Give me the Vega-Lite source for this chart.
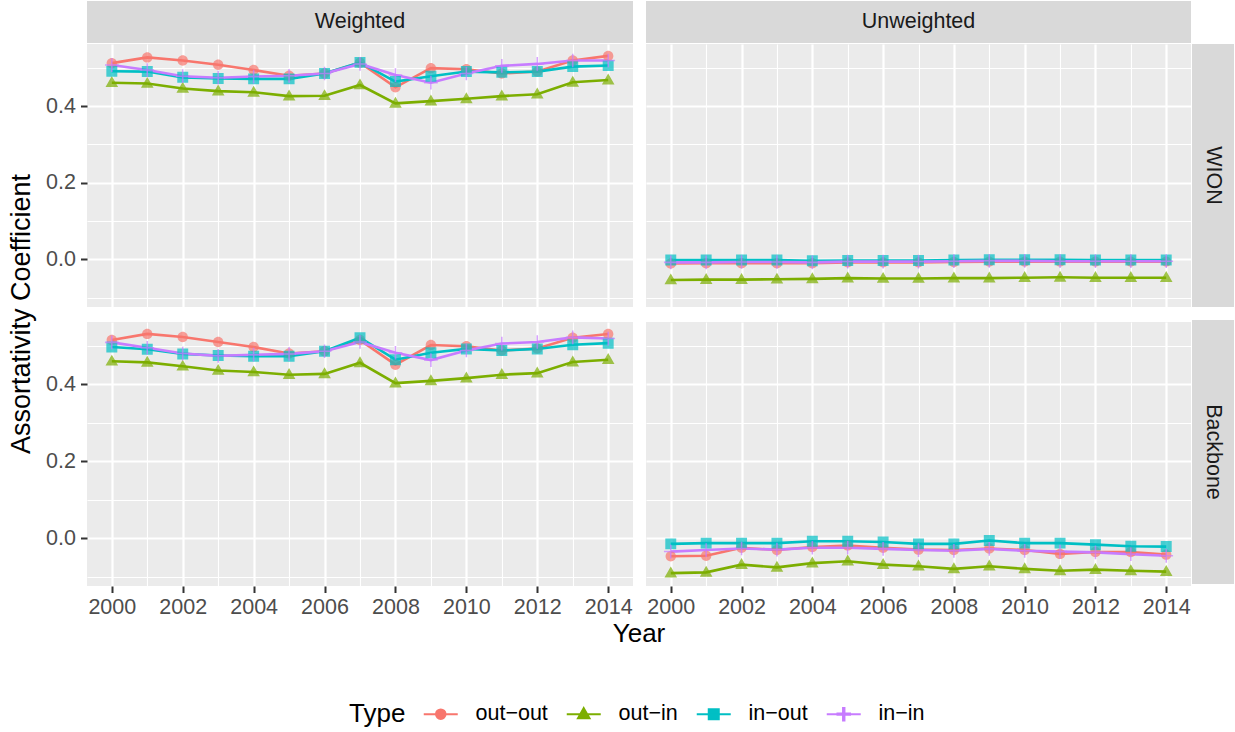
{
"$schema": "https://vega.github.io/schema/vega-lite/v6.json",
"padding": {"left": 7, "top": 1, "right": 0, "bottom": 0},
"datasets": {
"ww": [
{"Type":"out-out","Year":2000,"value":0.512},{"Type":"out-out","Year":2001,"value":0.527},{"Type":"out-out","Year":2002,"value":0.519},{"Type":"out-out","Year":2003,"value":0.508},{"Type":"out-out","Year":2004,"value":0.494},{"Type":"out-out","Year":2005,"value":0.479},{"Type":"out-out","Year":2006,"value":0.485},{"Type":"out-out","Year":2007,"value":0.513},{"Type":"out-out","Year":2008,"value":0.449},{"Type":"out-out","Year":2009,"value":0.499},{"Type":"out-out","Year":2010,"value":0.496},{"Type":"out-out","Year":2011,"value":0.485},{"Type":"out-out","Year":2012,"value":0.490},{"Type":"out-out","Year":2013,"value":0.519},{"Type":"out-out","Year":2014,"value":0.531},
{"Type":"out-in","Year":2000,"value":0.461},{"Type":"out-in","Year":2001,"value":0.459},{"Type":"out-in","Year":2002,"value":0.446},{"Type":"out-in","Year":2003,"value":0.439},{"Type":"out-in","Year":2004,"value":0.436},{"Type":"out-in","Year":2005,"value":0.426},{"Type":"out-in","Year":2006,"value":0.427},{"Type":"out-in","Year":2007,"value":0.455},{"Type":"out-in","Year":2008,"value":0.407},{"Type":"out-in","Year":2009,"value":0.413},{"Type":"out-in","Year":2010,"value":0.419},{"Type":"out-in","Year":2011,"value":0.426},{"Type":"out-in","Year":2012,"value":0.431},{"Type":"out-in","Year":2013,"value":0.462},{"Type":"out-in","Year":2014,"value":0.468},
{"Type":"in-out","Year":2000,"value":0.491},{"Type":"in-out","Year":2001,"value":0.490},{"Type":"in-out","Year":2002,"value":0.475},{"Type":"in-out","Year":2003,"value":0.472},{"Type":"in-out","Year":2004,"value":0.471},{"Type":"in-out","Year":2005,"value":0.471},{"Type":"in-out","Year":2006,"value":0.485},{"Type":"in-out","Year":2007,"value":0.514},{"Type":"in-out","Year":2008,"value":0.464},{"Type":"in-out","Year":2009,"value":0.478},{"Type":"in-out","Year":2010,"value":0.490},{"Type":"in-out","Year":2011,"value":0.488},{"Type":"in-out","Year":2012,"value":0.490},{"Type":"in-out","Year":2013,"value":0.503},{"Type":"in-out","Year":2014,"value":0.506},
{"Type":"in-in","Year":2000,"value":0.507},{"Type":"in-in","Year":2001,"value":0.494},{"Type":"in-in","Year":2002,"value":0.478},{"Type":"in-in","Year":2003,"value":0.474},{"Type":"in-in","Year":2004,"value":0.477},{"Type":"in-in","Year":2005,"value":0.479},{"Type":"in-in","Year":2006,"value":0.485},{"Type":"in-in","Year":2007,"value":0.510},{"Type":"in-in","Year":2008,"value":0.481},{"Type":"in-in","Year":2009,"value":0.461},{"Type":"in-in","Year":2010,"value":0.485},{"Type":"in-in","Year":2011,"value":0.505},{"Type":"in-in","Year":2012,"value":0.510},{"Type":"in-in","Year":2013,"value":0.519},{"Type":"in-in","Year":2014,"value":0.519}
],
"uw": [
{"Type":"out-out","Year":2000,"value":-0.011},{"Type":"out-out","Year":2001,"value":-0.010},{"Type":"out-out","Year":2002,"value":-0.010},{"Type":"out-out","Year":2003,"value":-0.010},{"Type":"out-out","Year":2004,"value":-0.010},{"Type":"out-out","Year":2005,"value":-0.008},{"Type":"out-out","Year":2006,"value":-0.008},{"Type":"out-out","Year":2007,"value":-0.008},{"Type":"out-out","Year":2008,"value":-0.007},{"Type":"out-out","Year":2009,"value":-0.006},{"Type":"out-out","Year":2010,"value":-0.006},{"Type":"out-out","Year":2011,"value":-0.006},{"Type":"out-out","Year":2012,"value":-0.006},{"Type":"out-out","Year":2013,"value":-0.006},{"Type":"out-out","Year":2014,"value":-0.006},
{"Type":"out-in","Year":2000,"value":-0.054},{"Type":"out-in","Year":2001,"value":-0.053},{"Type":"out-in","Year":2002,"value":-0.053},{"Type":"out-in","Year":2003,"value":-0.052},{"Type":"out-in","Year":2004,"value":-0.051},{"Type":"out-in","Year":2005,"value":-0.049},{"Type":"out-in","Year":2006,"value":-0.050},{"Type":"out-in","Year":2007,"value":-0.050},{"Type":"out-in","Year":2008,"value":-0.049},{"Type":"out-in","Year":2009,"value":-0.049},{"Type":"out-in","Year":2010,"value":-0.048},{"Type":"out-in","Year":2011,"value":-0.047},{"Type":"out-in","Year":2012,"value":-0.048},{"Type":"out-in","Year":2013,"value":-0.048},{"Type":"out-in","Year":2014,"value":-0.048},
{"Type":"in-out","Year":2000,"value":-0.002},{"Type":"in-out","Year":2001,"value":-0.002},{"Type":"in-out","Year":2002,"value":-0.002},{"Type":"in-out","Year":2003,"value":-0.002},{"Type":"in-out","Year":2004,"value":-0.004},{"Type":"in-out","Year":2005,"value":-0.003},{"Type":"in-out","Year":2006,"value":-0.003},{"Type":"in-out","Year":2007,"value":-0.003},{"Type":"in-out","Year":2008,"value":-0.002},{"Type":"in-out","Year":2009,"value":-0.001},{"Type":"in-out","Year":2010,"value":-0.001},{"Type":"in-out","Year":2011,"value":-0.001},{"Type":"in-out","Year":2012,"value":-0.002},{"Type":"in-out","Year":2013,"value":-0.002},{"Type":"in-out","Year":2014,"value":-0.002},
{"Type":"in-in","Year":2000,"value":-0.008},{"Type":"in-in","Year":2001,"value":-0.008},{"Type":"in-in","Year":2002,"value":-0.007},{"Type":"in-in","Year":2003,"value":-0.007},{"Type":"in-in","Year":2004,"value":-0.008},{"Type":"in-in","Year":2005,"value":-0.006},{"Type":"in-in","Year":2006,"value":-0.006},{"Type":"in-in","Year":2007,"value":-0.006},{"Type":"in-in","Year":2008,"value":-0.005},{"Type":"in-in","Year":2009,"value":-0.004},{"Type":"in-in","Year":2010,"value":-0.004},{"Type":"in-in","Year":2011,"value":-0.005},{"Type":"in-in","Year":2012,"value":-0.005},{"Type":"in-in","Year":2013,"value":-0.005},{"Type":"in-in","Year":2014,"value":-0.005}
],
"wb": [
{"Type":"out-out","Year":2000,"value":0.515},{"Type":"out-out","Year":2001,"value":0.531},{"Type":"out-out","Year":2002,"value":0.523},{"Type":"out-out","Year":2003,"value":0.510},{"Type":"out-out","Year":2004,"value":0.497},{"Type":"out-out","Year":2005,"value":0.480},{"Type":"out-out","Year":2006,"value":0.486},{"Type":"out-out","Year":2007,"value":0.515},{"Type":"out-out","Year":2008,"value":0.451},{"Type":"out-out","Year":2009,"value":0.502},{"Type":"out-out","Year":2010,"value":0.499},{"Type":"out-out","Year":2011,"value":0.488},{"Type":"out-out","Year":2012,"value":0.493},{"Type":"out-out","Year":2013,"value":0.521},{"Type":"out-out","Year":2014,"value":0.531},
{"Type":"out-in","Year":2000,"value":0.460},{"Type":"out-in","Year":2001,"value":0.457},{"Type":"out-in","Year":2002,"value":0.447},{"Type":"out-in","Year":2003,"value":0.436},{"Type":"out-in","Year":2004,"value":0.432},{"Type":"out-in","Year":2005,"value":0.425},{"Type":"out-in","Year":2006,"value":0.427},{"Type":"out-in","Year":2007,"value":0.456},{"Type":"out-in","Year":2008,"value":0.403},{"Type":"out-in","Year":2009,"value":0.409},{"Type":"out-in","Year":2010,"value":0.416},{"Type":"out-in","Year":2011,"value":0.425},{"Type":"out-in","Year":2012,"value":0.429},{"Type":"out-in","Year":2013,"value":0.458},{"Type":"out-in","Year":2014,"value":0.464},
{"Type":"in-out","Year":2000,"value":0.497},{"Type":"in-out","Year":2001,"value":0.491},{"Type":"in-out","Year":2002,"value":0.479},{"Type":"in-out","Year":2003,"value":0.475},{"Type":"in-out","Year":2004,"value":0.473},{"Type":"in-out","Year":2005,"value":0.473},{"Type":"in-out","Year":2006,"value":0.486},{"Type":"in-out","Year":2007,"value":0.521},{"Type":"in-out","Year":2008,"value":0.464},{"Type":"in-out","Year":2009,"value":0.482},{"Type":"in-out","Year":2010,"value":0.492},{"Type":"in-out","Year":2011,"value":0.488},{"Type":"in-out","Year":2012,"value":0.492},{"Type":"in-out","Year":2013,"value":0.503},{"Type":"in-out","Year":2014,"value":0.507},
{"Type":"in-in","Year":2000,"value":0.509},{"Type":"in-in","Year":2001,"value":0.495},{"Type":"in-in","Year":2002,"value":0.480},{"Type":"in-in","Year":2003,"value":0.474},{"Type":"in-in","Year":2004,"value":0.477},{"Type":"in-in","Year":2005,"value":0.479},{"Type":"in-in","Year":2006,"value":0.486},{"Type":"in-in","Year":2007,"value":0.510},{"Type":"in-in","Year":2008,"value":0.482},{"Type":"in-in","Year":2009,"value":0.463},{"Type":"in-in","Year":2010,"value":0.488},{"Type":"in-in","Year":2011,"value":0.506},{"Type":"in-in","Year":2012,"value":0.510},{"Type":"in-in","Year":2013,"value":0.522},{"Type":"in-in","Year":2014,"value":0.519}
],
"ub": [
{"Type":"out-out","Year":2000,"value":-0.047},{"Type":"out-out","Year":2001,"value":-0.046},{"Type":"out-out","Year":2002,"value":-0.025},{"Type":"out-out","Year":2003,"value":-0.031},{"Type":"out-out","Year":2004,"value":-0.023},{"Type":"out-out","Year":2005,"value":-0.019},{"Type":"out-out","Year":2006,"value":-0.025},{"Type":"out-out","Year":2007,"value":-0.030},{"Type":"out-out","Year":2008,"value":-0.031},{"Type":"out-out","Year":2009,"value":-0.027},{"Type":"out-out","Year":2010,"value":-0.031},{"Type":"out-out","Year":2011,"value":-0.041},{"Type":"out-out","Year":2012,"value":-0.036},{"Type":"out-out","Year":2013,"value":-0.036},{"Type":"out-out","Year":2014,"value":-0.043},
{"Type":"out-in","Year":2000,"value":-0.091},{"Type":"out-in","Year":2001,"value":-0.089},{"Type":"out-in","Year":2002,"value":-0.069},{"Type":"out-in","Year":2003,"value":-0.076},{"Type":"out-in","Year":2004,"value":-0.065},{"Type":"out-in","Year":2005,"value":-0.060},{"Type":"out-in","Year":2006,"value":-0.069},{"Type":"out-in","Year":2007,"value":-0.073},{"Type":"out-in","Year":2008,"value":-0.080},{"Type":"out-in","Year":2009,"value":-0.073},{"Type":"out-in","Year":2010,"value":-0.080},{"Type":"out-in","Year":2011,"value":-0.085},{"Type":"out-in","Year":2012,"value":-0.082},{"Type":"out-in","Year":2013,"value":-0.085},{"Type":"out-in","Year":2014,"value":-0.087},
{"Type":"in-out","Year":2000,"value":-0.015},{"Type":"in-out","Year":2001,"value":-0.013},{"Type":"in-out","Year":2002,"value":-0.013},{"Type":"in-out","Year":2003,"value":-0.013},{"Type":"in-out","Year":2004,"value":-0.008},{"Type":"in-out","Year":2005,"value":-0.008},{"Type":"in-out","Year":2006,"value":-0.010},{"Type":"in-out","Year":2007,"value":-0.015},{"Type":"in-out","Year":2008,"value":-0.015},{"Type":"in-out","Year":2009,"value":-0.006},{"Type":"in-out","Year":2010,"value":-0.013},{"Type":"in-out","Year":2011,"value":-0.013},{"Type":"in-out","Year":2012,"value":-0.017},{"Type":"in-out","Year":2013,"value":-0.021},{"Type":"in-out","Year":2014,"value":-0.022},
{"Type":"in-in","Year":2000,"value":-0.035},{"Type":"in-in","Year":2001,"value":-0.031},{"Type":"in-in","Year":2002,"value":-0.027},{"Type":"in-in","Year":2003,"value":-0.030},{"Type":"in-in","Year":2004,"value":-0.025},{"Type":"in-in","Year":2005,"value":-0.025},{"Type":"in-in","Year":2006,"value":-0.028},{"Type":"in-in","Year":2007,"value":-0.031},{"Type":"in-in","Year":2008,"value":-0.033},{"Type":"in-in","Year":2009,"value":-0.028},{"Type":"in-in","Year":2010,"value":-0.033},{"Type":"in-in","Year":2011,"value":-0.035},{"Type":"in-in","Year":2012,"value":-0.037},{"Type":"in-in","Year":2013,"value":-0.042},{"Type":"in-in","Year":2014,"value":-0.046}
]
},
"config": {
  "font": "Liberation Sans",
  "view": {"fill": "#EBEBEB", "stroke": null},
  "axis": {"domain": false, "grid": true, "gridColor": "#FFFFFF", "tickColor": "#333333", "tickSize": 6.5, "tickWidth": 2, "labelColor": "#4D4D4D", "labelFont": "Liberation Sans", "labelFontSize": 21.5, "labelOverlap": false, "titleFont": "Liberation Sans", "titleFontSize": 26, "titleFontWeight": "normal", "titleColor": "#000000"},
  "axisX": {"labelPadding": 4},
  "axisY": {"labelPadding": 5},
  "legend": {"orient": "none", "legendX": 342, "legendY": 702, "direction": "horizontal", "titleOrient": "left", "titleFont": "Liberation Sans", "titleFontSize": 26, "titleFontWeight": "normal", "titleColor": "#000000", "labelFont": "Liberation Sans", "labelFontSize": 21.5, "labelColor": "#000000", "columnPadding": 14, "labelOffset": 24, "titlePadding": 24}
},
"spacing": 8,
"hconcat": [
  {"width": 30, "height": 626, "view": {"fill": null, "stroke": null}, "data": {"values": [{"label": "Assortativity Coefficient"}]}, "mark": {"type": "text", "angle": 270, "fontSize": 27, "color": "#000000", "font": "Liberation Sans"}, "encoding": {"text": {"field": "label"}}},
  {"spacing": 1, "vconcat": [
    {"spacing": 13, "hconcat": [
      {"width": 546, "height": 42, "view": {"fill": "#D9D9D9", "stroke": null}, "data": {"values": [{"label": "Weighted"}]}, "mark": {"type": "text", "fontSize": 21.5, "color": "#1A1A1A", "font": "Liberation Sans"}, "encoding": {"text": {"field": "label"}}},
      {"width": 545, "height": 42, "view": {"fill": "#D9D9D9", "stroke": null}, "data": {"values": [{"label": "Unweighted"}]}, "mark": {"type": "text", "fontSize": 21.5, "color": "#1A1A1A", "font": "Liberation Sans"}, "encoding": {"text": {"field": "label"}}}
    ]},
    {"spacing": 1, "hconcat": [
      {"spacing": 13, "vconcat": [
        {"spacing": 13, "hconcat": [
          {"width": 546, "height": 263, "data": {"name": "ww"},
           "encoding": {
             "x": {"field": "Year", "type": "quantitative", "scale": {"domain": [1999.3, 2014.7], "nice": false, "zero": false}, "axis": {"values": [2000,2001,2002,2003,2004,2005,2006,2007,2008,2009,2010,2011,2012,2013,2014], "labels": false, "ticks": false, "title": null, "gridWidth": {"condition": {"test": "datum.value % 2 == 1", "value": 1.1}, "value": 2.2}}},
             "y": {"field": "value", "type": "quantitative", "scale": {"domain": [-0.1245, 0.562], "nice": false, "zero": false}, "axis": {"values": [-0.1,0,0.1,0.2,0.3,0.4,0.5], "labelExpr": "abs(round(datum.value*10)) % 2 == 1 ? '' : format(datum.value, '.1f')", "tickOpacity": {"condition": {"test": "abs(round(datum.value*10)) % 2 == 1", "value": 0}, "value": 1}, "gridWidth": {"condition": {"test": "abs(round(datum.value*10)) % 2 == 1", "value": 1.1}, "value": 2.2}, "title": null}},
             "color": {"field": "Type", "type": "nominal", "scale": {"domain": ["out-out","out-in","in-out","in-in"], "range": ["#F8766D","#7CAE00","#00BFC4","#C77CFF"]}, "legend": {"labelExpr": "replace(datum.label, '-', '\u2212')", "encode": {"symbols": {"update": {"stroke": {"scale": "color", "field": "value"}, "strokeWidth": {"value": 2}}}}}}
           },
           "layer": [
             {"mark": {"type": "line", "strokeWidth": 2.6}},
             {"mark": {"type": "point", "filled": true, "size": 120, "opacity": 0.7}, "encoding": {"shape": {"field": "Type", "type": "nominal", "scale": {"domain": ["out-out","out-in","in-out","in-in"], "range": ["M-3.4,0H3.4M0.95,0A0.95,0.95,0,1,1,-0.95,0A0.95,0.95,0,1,1,0.95,0Z", "M-3.4,0H3.4M0,-1.2L1.15,0.8L-1.15,0.8Z", "M-3.4,0H3.4M-1,-1H1V1H-1Z", "M-3.4,0H3.4M-1.25,-0.14H1.25V0.14H-1.25ZM-0.14,-1.25H0.14V1.25H-0.14Z"]}}}}
           ]
          },
          {"width": 545, "height": 263, "data": {"name": "uw"},
           "encoding": {
             "x": {"field": "Year", "type": "quantitative", "scale": {"domain": [1999.3, 2014.7], "nice": false, "zero": false}, "axis": {"values": [2000,2001,2002,2003,2004,2005,2006,2007,2008,2009,2010,2011,2012,2013,2014], "labels": false, "ticks": false, "title": null, "gridWidth": {"condition": {"test": "datum.value % 2 == 1", "value": 1.1}, "value": 2.2}}},
             "y": {"field": "value", "type": "quantitative", "scale": {"domain": [-0.1245, 0.562], "nice": false, "zero": false}, "axis": {"values": [-0.1,0,0.1,0.2,0.3,0.4,0.5], "labels": false, "ticks": false, "title": null, "gridWidth": {"condition": {"test": "abs(round(datum.value*10)) % 2 == 1", "value": 1.1}, "value": 2.2}}},
             "color": {"field": "Type", "type": "nominal"}
           },
           "layer": [
             {"mark": {"type": "line", "strokeWidth": 2.6}},
             {"mark": {"type": "point", "filled": true, "size": 120, "opacity": 0.7}, "encoding": {"shape": {"field": "Type", "type": "nominal"}}}
           ]
          }
        ]},
        {"spacing": 13, "hconcat": [
          {"width": 546, "height": 264, "data": {"name": "wb"},
           "encoding": {
             "x": {"field": "Year", "type": "quantitative", "scale": {"domain": [1999.3, 2014.7], "nice": false, "zero": false}, "axis": {"values": [2000,2001,2002,2003,2004,2005,2006,2007,2008,2009,2010,2011,2012,2013,2014], "labelExpr": "datum.value % 2 == 1 ? '' : format(datum.value, 'd')", "tickOpacity": {"condition": {"test": "datum.value % 2 == 1", "value": 0}, "value": 1}, "gridWidth": {"condition": {"test": "datum.value % 2 == 1", "value": 1.1}, "value": 2.2}, "title": null}},
             "y": {"field": "value", "type": "quantitative", "scale": {"domain": [-0.1245, 0.562], "nice": false, "zero": false}, "axis": {"values": [-0.1,0,0.1,0.2,0.3,0.4,0.5], "labelExpr": "abs(round(datum.value*10)) % 2 == 1 ? '' : format(datum.value, '.1f')", "tickOpacity": {"condition": {"test": "abs(round(datum.value*10)) % 2 == 1", "value": 0}, "value": 1}, "gridWidth": {"condition": {"test": "abs(round(datum.value*10)) % 2 == 1", "value": 1.1}, "value": 2.2}, "title": null}},
             "color": {"field": "Type", "type": "nominal"}
           },
           "layer": [
             {"mark": {"type": "line", "strokeWidth": 2.6}},
             {"mark": {"type": "point", "filled": true, "size": 120, "opacity": 0.7}, "encoding": {"shape": {"field": "Type", "type": "nominal"}}}
           ]
          },
          {"width": 545, "height": 264, "data": {"name": "ub"},
           "encoding": {
             "x": {"field": "Year", "type": "quantitative", "scale": {"domain": [1999.3, 2014.7], "nice": false, "zero": false}, "axis": {"values": [2000,2001,2002,2003,2004,2005,2006,2007,2008,2009,2010,2011,2012,2013,2014], "labelExpr": "datum.value % 2 == 1 ? '' : format(datum.value, 'd')", "tickOpacity": {"condition": {"test": "datum.value % 2 == 1", "value": 0}, "value": 1}, "gridWidth": {"condition": {"test": "datum.value % 2 == 1", "value": 1.1}, "value": 2.2}, "title": null}},
             "y": {"field": "value", "type": "quantitative", "scale": {"domain": [-0.1245, 0.562], "nice": false, "zero": false}, "axis": {"values": [-0.1,0,0.1,0.2,0.3,0.4,0.5], "labels": false, "ticks": false, "title": null, "gridWidth": {"condition": {"test": "abs(round(datum.value*10)) % 2 == 1", "value": 1.1}, "value": 2.2}}},
             "color": {"field": "Type", "type": "nominal"}
           },
           "layer": [
             {"mark": {"type": "line", "strokeWidth": 2.6}},
             {"mark": {"type": "point", "filled": true, "size": 120, "opacity": 0.7}, "encoding": {"shape": {"field": "Type", "type": "nominal"}}}
           ]
          }
        ]}
      ]},
      {"spacing": 13, "vconcat": [
        {"width": 42, "height": 263, "view": {"fill": "#D9D9D9", "stroke": null}, "data": {"values": [{"label": "WION"}]}, "mark": {"type": "text", "fontSize": 21.5, "color": "#1A1A1A", "font": "Liberation Sans", "angle": 90}, "encoding": {"text": {"field": "label"}}},
        {"width": 42, "height": 264, "view": {"fill": "#D9D9D9", "stroke": null}, "data": {"values": [{"label": "Backbone"}]}, "mark": {"type": "text", "fontSize": 21.5, "color": "#1A1A1A", "font": "Liberation Sans", "angle": 90}, "encoding": {"text": {"field": "label"}}}
      ]}
    ]},
    {"width": 1104, "height": 30, "view": {"fill": null, "stroke": null}, "data": {"values": [{"label": "Year"}]}, "mark": {"type": "text", "fontSize": 26, "color": "#000000", "font": "Liberation Sans"}, "encoding": {"text": {"field": "label"}}}
  ]}
]
}
